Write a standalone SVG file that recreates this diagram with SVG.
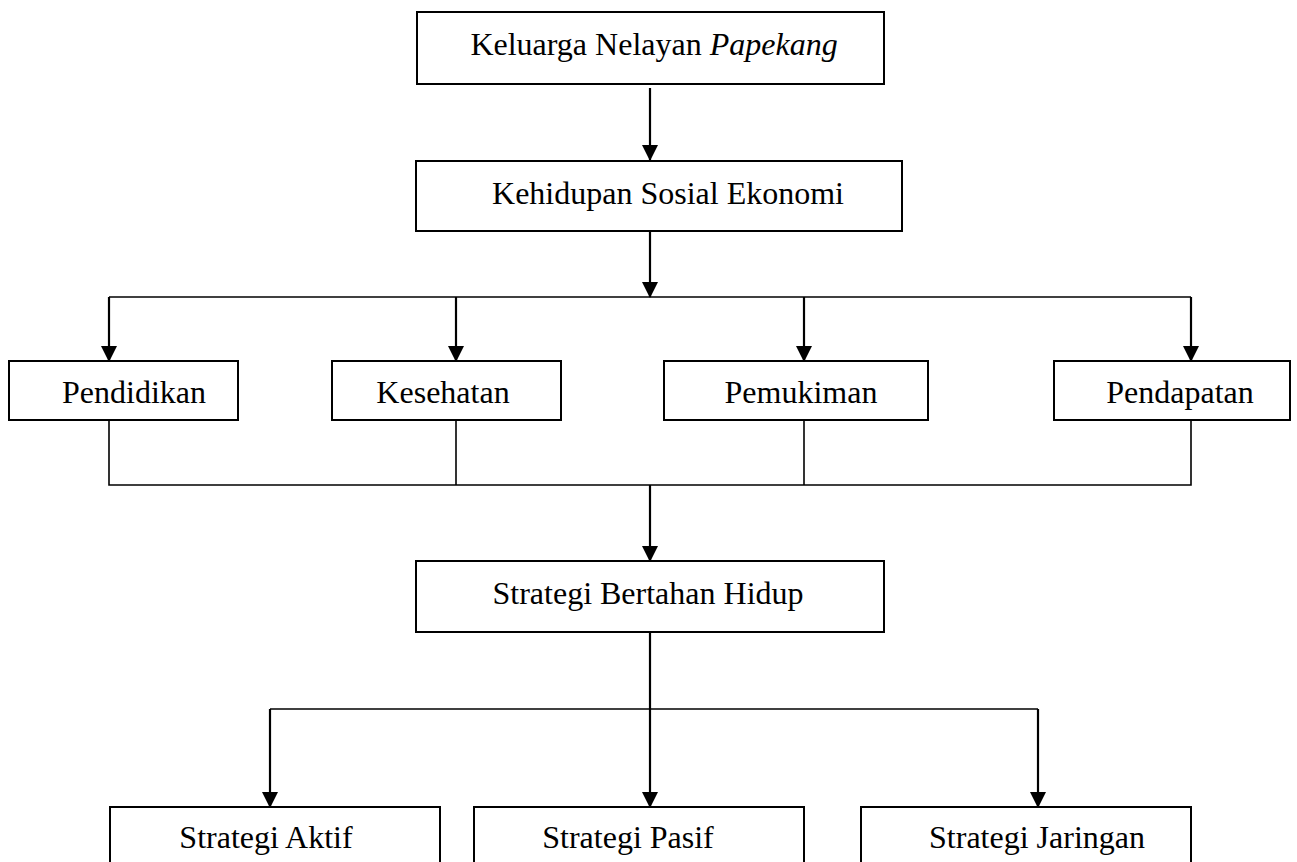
<svg xmlns="http://www.w3.org/2000/svg" width="1297" height="862" viewBox="0 0 1297 862">
<style>
.box{fill:#fff;stroke:#000;stroke-width:2}
.t{font-family:"Liberation Serif","Times New Roman",serif;font-size:32px;fill:#000;text-anchor:middle}
.ln{fill:none;stroke:#000;stroke-width:1.6}
.ar{fill:none;stroke:#000;stroke-width:2.2;marker-end:url(#ah)}
</style>
<defs>
<marker id="ah" markerUnits="userSpaceOnUse" markerWidth="16" markerHeight="16" viewBox="0 0 16 16" refX="15" refY="8" orient="auto">
<path d="M0,0 L16,8 L0,16 Z" fill="#000"/>
</marker>
</defs>
<rect width="1297" height="862" fill="#fff"/>
<g id="connectors">
<path class="ar" d="M650,88 V160"/>
<path class="ar" d="M650,231 V297"/>
<path class="ln" d="M109,297 H1191"/>
<path class="ar" d="M109,297 V361"/>
<path class="ar" d="M456,297 V361"/>
<path class="ar" d="M804,297 V361"/>
<path class="ar" d="M1191,297 V361"/>
<path class="ln" d="M109,420 V485 H1191 V420"/>
<path class="ln" d="M456,420 V485"/>
<path class="ln" d="M804,420 V485"/>
<path class="ar" d="M650,485 V561"/>
<path class="ar" d="M650,632 V807"/>
<path class="ln" d="M270,709 H1038"/>
<path class="ar" d="M270,709 V807"/>
<path class="ar" d="M1038,709 V807"/>
</g>
<g id="n-keluarga"><rect class="box" x="417" y="12" width="467" height="72"/><text class="t" x="654" y="55">Keluarga Nelayan <tspan font-style="italic">Papekang</tspan></text></g>
<g id="n-kehidupan"><rect class="box" x="416" y="161" width="486" height="70"/><text class="t" x="668" y="204">Kehidupan Sosial Ekonomi</text></g>
<g id="n-pendidikan"><rect class="box" x="9" y="361" width="229" height="59"/><text class="t" x="134" y="403">Pendidikan</text></g>
<g id="n-kesehatan"><rect class="box" x="332" y="361" width="229" height="59"/><text class="t" x="443" y="403">Kesehatan</text></g>
<g id="n-pemukiman"><rect class="box" x="664" y="361" width="264" height="59"/><text class="t" x="801" y="403">Pemukiman</text></g>
<g id="n-pendapatan"><rect class="box" x="1054" y="361" width="236" height="59"/><text class="t" x="1180" y="403">Pendapatan</text></g>
<g id="n-strategi"><rect class="box" x="416" y="561" width="468" height="71"/><text class="t" x="648" y="604">Strategi Bertahan Hidup</text></g>
<g id="n-aktif"><rect class="box" x="110" y="807" width="330" height="70"/><text class="t" x="266" y="848">Strategi Aktif</text></g>
<g id="n-pasif"><rect class="box" x="474" y="807" width="330" height="70"/><text class="t" x="628" y="848">Strategi Pasif</text></g>
<g id="n-jaringan"><rect class="box" x="861" y="807" width="330" height="70"/><text class="t" x="1037" y="848">Strategi Jaringan</text></g>
</svg>
